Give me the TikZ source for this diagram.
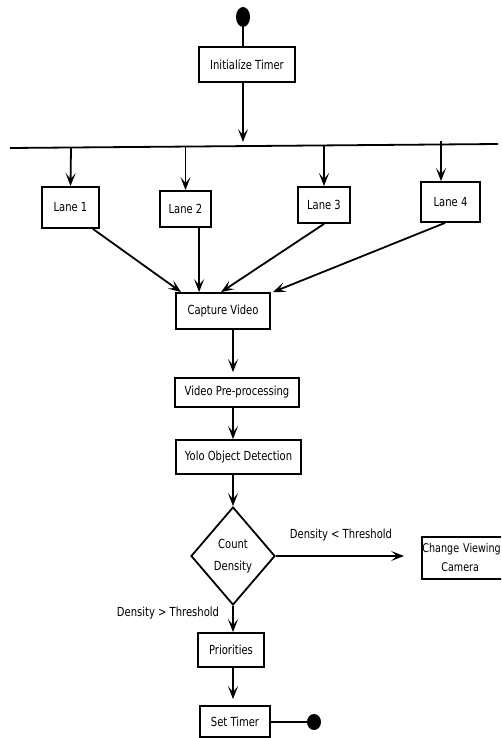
\documentclass[tikz,border=0pt]{standalone}
\usepackage{fontspec}
\setmainfont{DejaVu Sans}[FakeStretch=0.8]
\usetikzlibrary{shapes.geometric,arrows.meta,calc}
\begin{document}
\begin{tikzpicture}[x=1pt,y=-1pt,
  lw/.style={line width=1.8pt},
  box/.style={draw,lw,inner sep=0pt,rectangle,font=\fontsize{12.5}{19}\selectfont,align=center},
  lbl/.style={inner sep=0pt,font=\fontsize{12.5}{15}\selectfont},
  arr/.style={lw,-{Stealth[length=13pt,width=10pt,inset=6pt]}},
  dotnode/.style={ellipse,fill=black,draw=none,inner sep=0pt}]
\clip (0,0) rectangle (501,738);
\fill[white] (0,0) rectangle (501,738);
% start / end dots
\node[dotnode,minimum width=14,minimum height=20] (start) at (243,17) {};
\node[dotnode,minimum width=14,minimum height=16] (stop) at (314,722) {};
% boxes
\node[box,minimum width=96,minimum height=35] (init) at (247,64.5) {Initialíze Timer};
\node[box,minimum width=57,minimum height=41] (l1) at (70.5,207.5) {Lane 1};
\node[box,minimum width=51,minimum height=36] (l2) at (185.5,209) {Lane 2};
\node[box,minimum width=52,minimum height=36] (l3) at (324,205) {Lane 3};
\node[box,minimum width=59,minimum height=40] (l4) at (450.5,202) {Lane 4};
\node[box,minimum width=94,minimum height=36] (cap) at (223,311) {Capture Video};
\node[box,minimum width=124,minimum height=29] (vpp) at (237,392.5) {Video Pre-processing};
\node[box,minimum width=125,minimum height=34] (yolo) at (238.5,457) {Yolo Object Detection};
\node[draw,lw,diamond,inner sep=0pt,minimum width=84,minimum height=98,align=center,
      font=\fontsize{12.5}{22}\selectfont] (cd) at (233,556) {Count\\Density};
\node[box,anchor=west,minimum width=85,minimum height=42,text width=84pt,align=left,
      font=\fontsize{12}{19}\selectfont] (cvc) at (421,558) {Change Viewing\\\hspace*{19pt}Camera};
\node[box,minimum width=66,minimum height=34] (prio) at (231,650) {Priorities};
\node[box,minimum width=70,minimum height=31] (st) at (235,721.5) {Set Timer};
% labels
\node[lbl] (lless) at (341,535) {Density < Threshold};
\node[lbl] (lmore) at (168,613) {Density > Threshold};
% fork bar
\coordinate (barL) at (10,148);
\coordinate (barR) at (498,144);
\draw[lw] (barL) -- (barR);
\coordinate (b0) at (243,142);
\coordinate (b1) at (71,147.5);
\coordinate (b2) at (185.5,146.5);
\coordinate (b3) at (324,145.5);
\coordinate (b4) at (441,141);
\coordinate (cdend) at (404,556);
% connectors
\draw[lw] (start) -- (init.north -| start);
\draw[arr] (init.south -| start) -- (b0);
\draw[arr] (b1) -- (l1.north);
\draw[arr] (b2) -- (l2.north);
\draw[arr] (b3) -- (l3.north);
\draw[arr] (b4) -- (b4 |- l4.north);
\draw[arr] ([xshift=-7pt]l1.south east) -- ([xshift=6pt]cap.north west);
\draw[arr] ([xshift=13.5pt]l2.south) -- ([xshift=24pt]cap.north west);
\draw[arr] (l3.south) -- ([xshift=46pt]cap.north west);
\draw[arr] ([xshift=-5.5pt]l4.south) -- ([xshift=2pt]cap.north east);
\draw[arr] (cap.south -| cd) -- ([yshift=5pt]vpp.north -| cd);
\draw[arr] (vpp.south -| cd) -- (yolo.north -| cd);
\draw[arr] (yolo.south -| cd) -- (cd.north);
\draw[arr] (cd.east) -- (cdend);
\draw[arr] (cd.south) -- (prio.north -| cd);
\draw[arr] (prio.south -| cd) -- ([yshift=6pt]st.north -| cd);
\draw[lw] (st.east |- stop) -- (stop);
\end{tikzpicture}
\end{document}
